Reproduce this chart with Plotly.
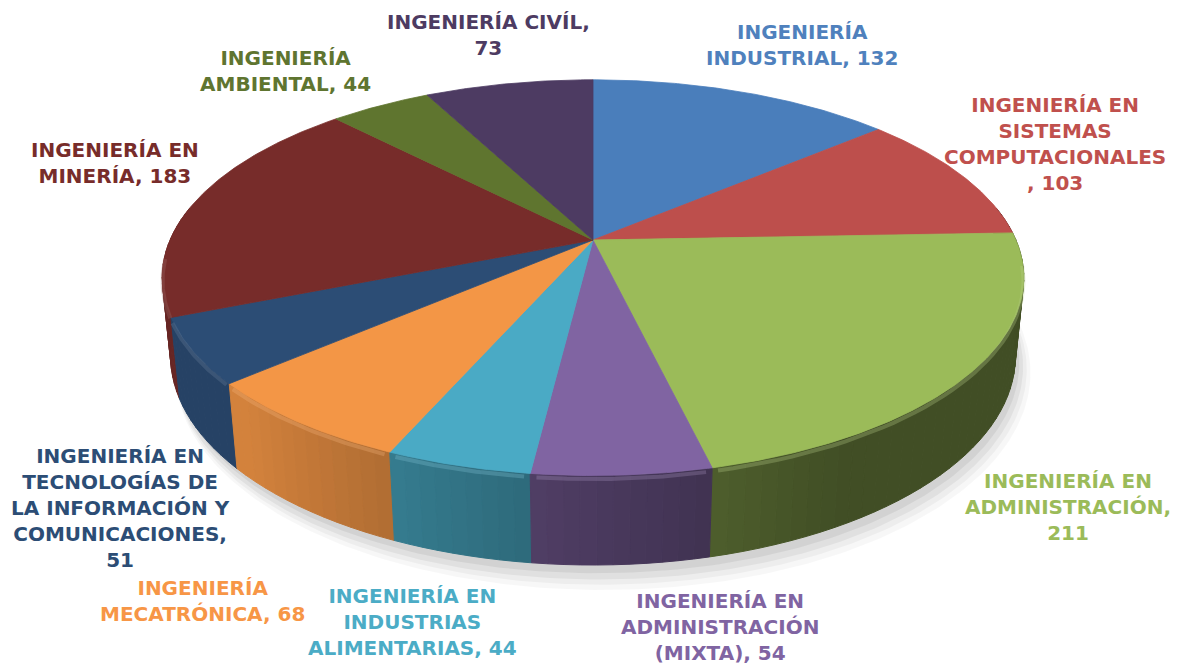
import numpy as np
import plotly.graph_objects as go

# ---------------- data ----------------
categories = [
    "INGENIERÍA<br>INDUSTRIAL",
    "INGENIERÍA EN<br>SISTEMAS<br>COMPUTACIONALES",
    "INGENIERÍA EN<br>ADMINISTRACIÓN",
    "INGENIERÍA EN<br>ADMINISTRACIÓN<br>(MIXTA)",
    "INGENIERÍA EN<br>INDUSTRIAS<br>ALIMENTARIAS",
    "INGENIERÍA<br>MECATRÓNICA",
    "INGENIERÍA EN<br>TECNOLOGÍAS DE<br>LA INFORMACIÓN Y<br>COMUNICACIONES",
    "INGENIERÍA EN<br>MINERÍA",
    "INGENIERÍA<br>AMBIENTAL",
    "INGENIERÍA CIVÍL",
]
values = [132, 103, 211, 54, 44, 68, 51, 183, 44, 73]
separators = [", ", "<br>, ", ",<br>", ", ", ", ", ", ", ",<br>", ", ", ", ", ",<br>"]

# ---------------- styles ----------------
face_colors = ["#4A7EBB", "#BD4F4C", "#9BBB59", "#8064A2", "#4AAAC5",
               "#F39646", "#2C4D75", "#772C2A", "#5F752F", "#4D3B62"]
label_colors = ["#4F81BD", "#C0504D", "#9BBB59", "#8064A2", "#4BACC6",
                "#F79646", "#2C4D75", "#772C2A", "#5F7530", "#4D3B62"]
label_pos = [(802, 45), (1055, 144), (1068, 507), (720, 627), (412, 622),
             (202, 601), (120, 508), (115, 163), (285, 71), (488, 35)]

W, Hpx = 1178, 665
OFF = 8  # page body margin: axis ranges are shifted so data units = window pixels
PHI = np.radians(26.3)
DIST = 4.71
KX, KY = 1992, 2027
CX, CY = 593, 240
DEPTH = 0.204


def proj(th, z):
    X = np.sin(th)
    Y = np.cos(th)
    dep = DIST + Y * np.cos(PHI) - z * np.sin(PHI)
    u = X / dep
    v = (Y * np.sin(PHI) + z * np.cos(PHI)) / dep
    return CX + KX * u, CY - KY * v


def hex2rgb(h):
    h = h.lstrip("#")
    return [int(h[i:i + 2], 16) for i in (0, 2, 4)]


def shade(h, f):
    r, g, b = hex2rgb(h)
    if f <= 1:
        return "rgb(%d,%d,%d)" % (r * f, g * f, b * f)
    t = f - 1
    return "rgb(%d,%d,%d)" % (r + (255 - r) * t, g + (255 - g) * t, b + (255 - b) * t)


def wall_factor(th_deg):
    t = min(1.0, max(0.0, (th_deg - 150.0) / 75.0))
    return 0.42 + 0.45 * t ** 1.1


total = sum(values)
bounds = np.concatenate([[0], np.cumsum(values)]) / total * 2 * np.pi

fig = go.Figure()

# soft shadow (mostly down / right)
full = np.linspace(0, 2 * np.pi, 361)
for gx, gy, dx, dy, a in [(1.012, 1.04, 10, 12, 0.03), (1.008, 1.03, 8, 10, 0.04),
                          (1.004, 1.02, 6, 8, 0.05), (1.0, 1.01, 4, 5, 0.06)]:
    sx, sy = proj(full, -DEPTH)
    sx = CX + (sx - CX) * gx + dx
    sy = CY + (sy - CY) * gy + dy
    fig.add_trace(go.Scatter(x=sx, y=sy, mode="lines", fill="toself",
                             fillcolor="rgba(0,0,0,%.3f)" % a, line=dict(width=0),
                             hoverinfo="skip", showlegend=False))

# side walls
strips = []
lo_v, hi_v = np.radians(80), np.radians(280)
for i in range(len(values)):
    a0, a1 = max(bounds[i], lo_v), min(bounds[i + 1], hi_v)
    if a1 <= a0:
        continue
    n = max(1, int(np.ceil(np.degrees(a1 - a0) / 2.0)))
    edges = np.linspace(a0, a1, n + 1)
    for j in range(n):
        s0, s1 = edges[j], edges[j + 1]
        strips.append((np.cos((s0 + s1) / 2), i, s0, s1))
strips.sort(key=lambda s: -s[0])
for _, i, s0, s1 in strips:
    th = np.linspace(s0, s1, 4)
    tx, ty = proj(th, 0)
    bx, by = proj(th[::-1], -DEPTH)
    f = wall_factor(np.degrees((s0 + s1) / 2))
    col = shade(face_colors[i], f)
    fig.add_trace(go.Scatter(x=np.concatenate([tx, bx, tx[:1]]), y=np.concatenate([ty, by, ty[:1]]),
                             mode="lines", fill="toself", fillcolor=col,
                             line=dict(color=col, width=1),
                             hoverinfo="skip", showlegend=False))

# top faces
for i in range(len(values)):
    th = np.linspace(bounds[i], bounds[i + 1], max(3, int(np.degrees(bounds[i + 1] - bounds[i]) * 2)))
    px, py = proj(th, 0)
    fig.add_trace(go.Scatter(x=np.concatenate([[CX], px, [CX]]), y=np.concatenate([[CY], py, [CY]]),
                             mode="lines", fill="toself", fillcolor=face_colors[i],
                             line=dict(color=face_colors[i], width=0.8),
                             name=categories[i].replace("<br>", " "),
                             hovertemplate="%{fullData.name}: " + str(values[i]) + "<extra></extra>",
                             showlegend=False))

# rim bevel highlight
for i in range(len(values)):
    a0, a1 = max(bounds[i], np.radians(96)), min(bounds[i + 1], np.radians(266))
    if a1 <= a0:
        continue
    th = np.linspace(a0 + 0.012, a1 - 0.012, 40)
    hx, hy = proj(th, -0.008)
    fig.add_trace(go.Scatter(x=hx, y=hy, mode="lines",
                             line=dict(color=shade(face_colors[i], 1.3), width=4),
                             opacity=0.3, hoverinfo="skip", showlegend=False))

# labels
for i in range(len(values)):
    x, y = label_pos[i]
    fig.add_annotation(x=x, y=y, xref="x", yref="y", showarrow=False,
                       text="<b>" + categories[i] + separators[i] + str(values[i]) + "</b>",
                       font=dict(family="DejaVu Sans", size=20, color=label_colors[i]),
                       xanchor="center", yanchor="middle", align="center")

fig.update_layout(
    width=W, height=Hpx, margin=dict(l=0, r=0, t=0, b=0),
    paper_bgcolor="white", plot_bgcolor="white",
    xaxis=dict(range=[OFF, W + OFF], visible=False, fixedrange=True),
    yaxis=dict(range=[Hpx + OFF, OFF], visible=False, fixedrange=True),
    showlegend=False,
)
fig.write_html("out.html")
